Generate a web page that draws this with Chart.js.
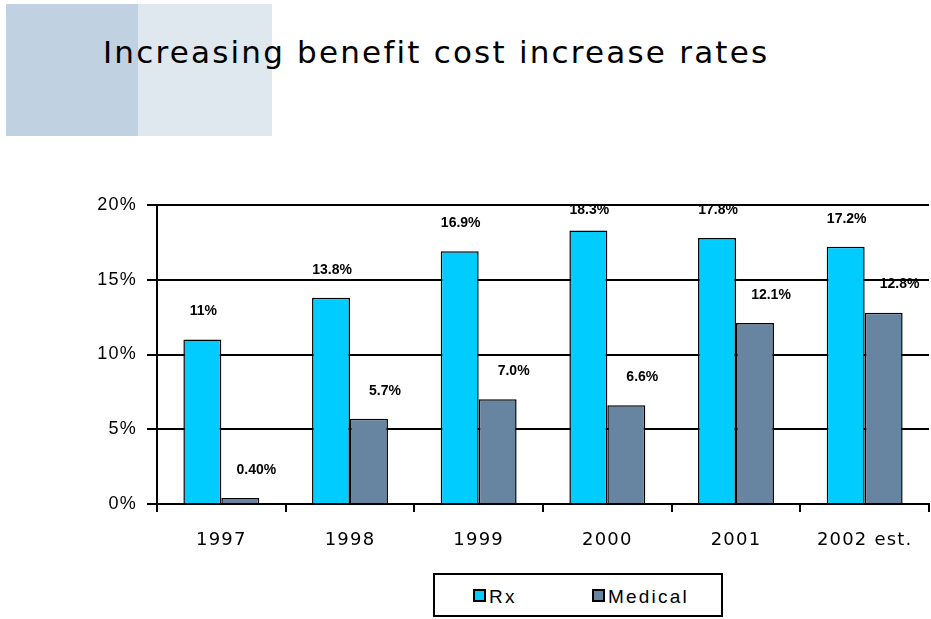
<!DOCTYPE html>
<html lang="en">
<head>
    <meta charset="UTF-8">
    <title>Increasing benefit cost increase rates</title>
    <script src="https://cdn.jsdelivr.net/npm/chart.js"></script>
    <style>
        body {
            margin: 0;
            padding: 0;
            background: #ffffff;
            width: 931px;
            height: 619px;
            position: relative;
            overflow: hidden;
            font-family: 'Liberation Sans', Arial, sans-serif;
        }

        .block-dark {
            position: absolute;
            left: 6px; top: 4px;
            width: 132px; height: 132px;
            background: #c0d1e1;
        }

        .block-light {
            position: absolute;
            left: 138px; top: 4px;
            width: 134px; height: 132px;
            background: #dfe7ef;
        }

        h1 {
            position: absolute;
            left: 103px; top: 32px;
            margin: 0;
            font-family: 'DejaVu Sans', Verdana, sans-serif;
            font-weight: normal;
            font-size: 31px;
            letter-spacing: 2.2px;
            line-height: 40px;
            color: #000;
            white-space: nowrap;
        }

        #chartWrap {
            position: absolute;
            left: 0; top: 0;
            width: 931px; height: 619px;
        }

        .legend {
            position: absolute;
            left: 433px; top: 573px;
            width: 286px; height: 40px;
            border: 2px solid #000;
            background: #fff;
        }

        .legend .item {
            position: absolute;
            top: 12px;
            font-size: 19px;
            line-height: 20px;
            letter-spacing: 2.2px;
            color: #000;
        }

        .legend .swatch {
            display: inline-block;
            width: 9px; height: 9px;
            border: 2px solid #000;
            margin-right: 3px;
            vertical-align: 1px;
        }
    </style>
</head>
<body>
    <div class="block-dark"></div>
    <div class="block-light"></div>
    <h1>Increasing benefit cost increase rates</h1>

    <div id="chartWrap"><canvas id="chart"></canvas></div>

    <div class="legend">
        <div class="item" style="left: 38px;"><span class="swatch" style="background:#00ccff"></span>Rx</div>
        <div class="item" style="left: 157px;"><span class="swatch" style="background:#6785a1"></span>Medical</div>
    </div>

    <script>
        const years = ["1997", "1998", "1999", "2000", "2001", "2002 est."];
        const rxValues = [11, 13.8, 16.9, 18.3, 17.8, 17.2];
        const medicalValues = [0.4, 5.7, 7.0, 6.6, 12.1, 12.8];
        const rxLabels = ["11%", "13.8%", "16.9%", "18.3%", "17.8%", "17.2%"];
        const medicalLabels = ["0.40%", "5.7%", "7.0%", "6.6%", "12.1%", "12.8%"];
        const yTicks = [0, 5, 10, 15, 20];

        // the axis text in the original is spaced out a little
        const spacedText = {
            id: "spacedText",
            beforeDraw(chart) {
                chart.ctx.letterSpacing = "1.2px";
            }
        };

        // value labels above each bar (medical ones sit a bit to the right)
        const valueLabels = {
            id: "valueLabels",
            afterDatasetsDraw(chart) {
                const ctx = chart.ctx;
                const texts = [rxLabels, medicalLabels];
                const shifts = [1, 16];
                ctx.save();
                ctx.letterSpacing = "0px";
                ctx.font = "bold 14px 'Liberation Sans', Arial, sans-serif";
                ctx.fillStyle = "#000";
                ctx.textAlign = "center";
                ctx.textBaseline = "middle";
                chart.data.datasets.forEach((ds, i) => {
                    chart.getDatasetMeta(i).data.forEach((bar, j) => {
                        const y = Math.max(bar.y - 28, chart.chartArea.top + 5);
                        ctx.fillText(texts[i][j], bar.x + shifts[i], y);
                    });
                });
                ctx.restore();
            }
        };

        new Chart(document.getElementById("chart"), {
            type: "bar",
            data: {
                labels: years,
                datasets: [
                    {
                        label: "Rx",
                        data: rxValues,
                        backgroundColor: "#00ccff",
                        borderColor: "#000",
                        borderWidth: 1.5
                    },
                    {
                        label: "Medical",
                        data: medicalValues,
                        backgroundColor: "#6785a1",
                        borderColor: "#000",
                        borderWidth: 1.5
                    }
                ]
            },
            options: {
                responsive: true,
                maintainAspectRatio: false,
                animation: false,
                layout: { padding: { top: 205, right: 2, left: 0, bottom: 0 } },
                plugins: {
                    legend: { display: false },
                    tooltip: { enabled: false }
                },
                datasets: {
                    bar: { categoryPercentage: 0.59, barPercentage: 1 }
                },
                scales: {
                    x: {
                        afterFit: s => { s.height = 115; },
                        border: { color: "#000", width: 2 },
                        grid: {
                            offset: true,
                            drawOnChartArea: false,
                            color: "#000",
                            lineWidth: 2,
                            tickLength: 8
                        },
                        ticks: {
                            color: "#000",
                            padding: 18,
                            font: { family: "'DejaVu Sans', Verdana, sans-serif", size: 18 }
                        }
                    },
                    y: {
                        min: 0,
                        max: 20,
                        afterFit: s => { s.width = 157; },
                        afterBuildTicks: s => { s.ticks = yTicks.map(v => ({ value: v })); },
                        border: { color: "#000", width: 2 },
                        grid: {
                            color: "#000",
                            lineWidth: 2,
                            tickLength: 10
                        },
                        ticks: {
                            color: "#000",
                            padding: 10,
                            font: { family: "'Liberation Sans', Arial, sans-serif", size: 18 },
                            callback: v => v + "%"
                        }
                    }
                }
            },
            plugins: [spacedText, valueLabels]
        });
    </script>
</body>
</html>
